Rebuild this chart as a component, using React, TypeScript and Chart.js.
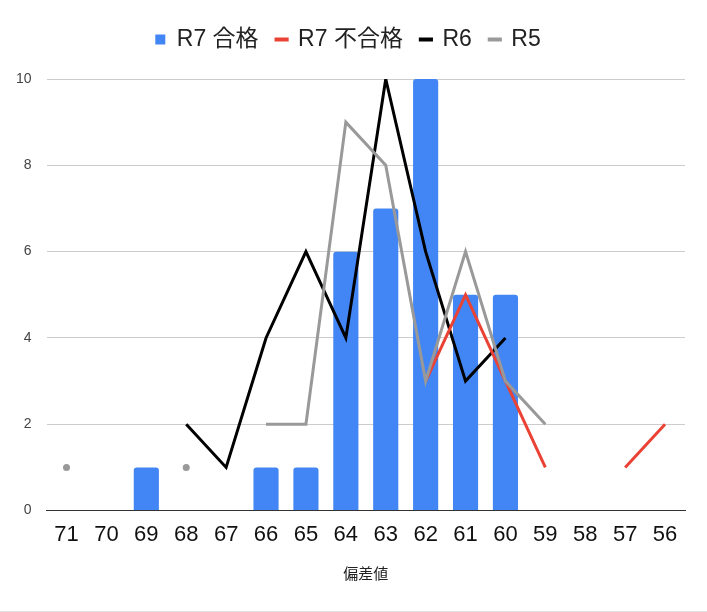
import React, { useEffect, useRef } from "react";
import { Chart, registerables } from "chart.js";
Chart.register(...registerables);

const categories = ["71","70","69","68","67","66","65","64","63","62","61","60","59","58","57","56"];
const r7Pass = [null, null, 1, null, null, 1, 1, 6, 7, 10, 5, 5, null, null, null, null];
const r7Fail = [null, null, null, null, null, null, null, null, null, 3, 5, 3, 1, null, 1, 2];
const r6 = [null, null, null, 2, 1, 4, 6, 4, 10, 6, 3, 4, null, null, null, null];
const r5 = [1, null, null, 1, null, 2, 2, 9, 8, 3, 6, 3, 2, null, null, null];
const yTicks = [0, 2, 4, 6, 8, 10];

const isolatedRadius = (data: (number | null)[]) => (ctx: any) => {
  const i = ctx.dataIndex;
  const v = data[i];
  if (v == null) return 0;
  const prev = i > 0 ? data[i - 1] : null;
  const next = i < data.length - 1 ? data[i + 1] : null;
  return prev == null && next == null ? 3.5 : 0;
};

const legendMargin = {
  id: "legendMargin",
  beforeInit(chart: any) {
    const fit = chart.legend.fit;
    chart.legend.fit = function () {
      fit.bind(chart.legend)();
      this.height += 18;
    };
  },
  afterLayout(chart: any) {
    chart.legend.left += 5;
    chart.legend.right += 5;
  },
};

export default function App() {
  const ref = useRef<HTMLCanvasElement>(null);
  useEffect(() => {
    document.body.style.margin = "0";
    const chart = new Chart(ref.current!, {
      type: "bar",
      plugins: [legendMargin],
      data: {
        labels: categories,
        datasets: [
          {
            type: "bar",
            label: "R7 合格",
            data: r7Pass,
            backgroundColor: "#4285f4",
            borderRadius: { topLeft: 3, topRight: 3, bottomLeft: 0, bottomRight: 0 },
            borderSkipped: false,
            barPercentage: 0.63,
            categoryPercentage: 1,
            order: 5,
          } as any,
          {
            type: "line",
            label: "R7 不合格",
            data: r7Fail,
            borderColor: "#ea4335",
            backgroundColor: "#ea4335",
            borderWidth: 3,
            pointRadius: isolatedRadius(r7Fail),
            spanGaps: false,
            order: 2,
          },
          {
            type: "line",
            label: "R6",
            data: r6,
            borderColor: "#000000",
            backgroundColor: "#000000",
            borderWidth: 3,
            pointRadius: isolatedRadius(r6),
            spanGaps: false,
            order: 3,
          },
          {
            type: "line",
            label: "R5",
            data: r5,
            borderColor: "#999999",
            backgroundColor: "#999999",
            borderWidth: 3,
            pointRadius: isolatedRadius(r5),
            pointBorderWidth: 0,
            spanGaps: false,
            order: 1,
          },
        ],
      },
      options: {
        animation: false,
        responsive: false,
        maintainAspectRatio: false,
        layout: { padding: { left: 1, right: 22, top: 10, bottom: 28 } },
        plugins: {
          tooltip: { enabled: false },
          legend: {
            position: "top",
            labels: {
              font: { family: "Arial, 'Liberation Sans', 'Noto Sans CJK JP'", size: 23 },
              color: "#222",
              boxWidth: 10,
              boxHeight: 10,
              padding: 18,
              usePointStyle: true,
              generateLabels: (chart: any) =>
                chart.data.datasets.map((ds: any, i: number) => ({
                  text: ds.label,
                  fillStyle: ds.type === "bar" ? ds.backgroundColor : ds.borderColor,
                  strokeStyle: ds.type === "bar" ? ds.backgroundColor : ds.borderColor,
                  lineWidth: ds.type === "bar" ? 0 : 4,
                  pointStyle: ds.type === "bar" ? "rect" : "line",
                  hidden: false,
                  datasetIndex: i,
                  fontColor: "#222",
                })),
            },
          },
        },
        scales: {
          x: {
            grid: { display: false, drawTicks: false },
            border: { display: true, color: "#333", width: 1 },
            ticks: {
              font: { family: "Arial, 'Liberation Sans'", size: 22 },
              color: "#111",
              padding: 11,
              maxRotation: 0,
              autoSkip: false,
            },
            title: {
              display: true,
              text: "偏差値",
              font: { family: "'Noto Sans CJK JP', Arial", size: 15 },
              color: "#222",
              padding: { top: 5, bottom: 0 },
            },
          },
          y: {
            min: 0,
            max: 10,
            afterBuildTicks: (axis: any) => {
              axis.ticks = yTicks.map((v) => ({ value: v }));
            },
            grid: { color: "#cccccc", drawTicks: false },
            border: { display: false },
            ticks: {
              font: { family: "Arial, 'Liberation Sans'", size: 14 },
              color: "#444",
              padding: 15,
            },
          },
        },
      },
    });
    return () => chart.destroy();
  }, []);
  return (
    <div style={{ width: 707, height: 612, borderBottom: "1px solid #e0e0e0", boxSizing: "border-box" }}>
      <canvas ref={ref} width={707} height={610} style={{ display: "block" }} />
    </div>
  );
}
